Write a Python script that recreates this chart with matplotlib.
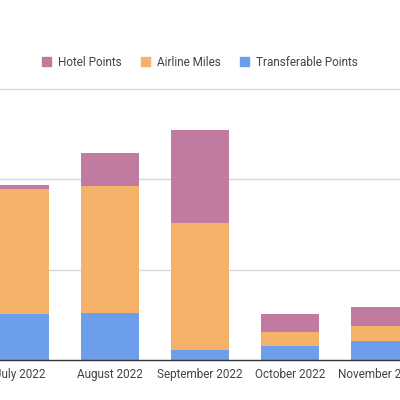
import matplotlib
matplotlib.use("Agg")
import matplotlib.pyplot as plt
from matplotlib.patches import Patch

months = ["July 2022", "August 2022", "September 2022", "October 2022", "November 2022"]
transferable = [25500, 26200, 5600, 7800, 10600]
airline = [69400, 70000, 70000, 7800, 8300]
hotel = [1700, 18300, 51700, 10000, 10600]
grid_values = [50000, 100000, 150000]

c_hotel = "#C27BA0"
c_air = "#F6B26B"
c_trans = "#6D9EEB"

plt.rcParams['font.family'] = ['Roboto', 'DejaVu Sans']

fig = plt.figure(figsize=(4, 4), dpi=100)
ax = fig.add_axes([0, 40/400, 1, 271/400])

x = list(range(len(months)))
w = 0.644
ax.bar(x, transferable, width=w, color=c_trans, zorder=3)
ax.bar(x, airline, width=w, bottom=transferable, color=c_air, zorder=3)
bot2 = [a + b for a, b in zip(transferable, airline)]
ax.bar(x, hotel, width=w, bottom=bot2, color=c_hotel, zorder=3)

ax.set_xlim(-20/90, 380/90)
ax.set_ylim(0, 150000)
for g in grid_values:
    ax.axhline(g, color="#d9d9d9", lw=1, zorder=1, clip_on=False)
ax.axhline(0, color="#333333", lw=1, zorder=4, clip_on=False)

for s in ax.spines.values():
    s.set_visible(False)
ax.set_yticks([])
ax.set_xticks(x)
ax.set_xticklabels(months, fontsize=8.5, color="#444444")
ax.tick_params(axis='x', length=0, pad=6)

handles = [Patch(color=c_hotel, label="Hotel Points"),
           Patch(color=c_air, label="Airline Miles"),
           Patch(color=c_trans, label="Transferable Points")]
fig.legend(handles=handles, loc="center", bbox_to_anchor=(0.5, 1 - 62/400), ncol=3,
           frameon=False, fontsize=8.5, labelcolor="#444444",
           handlelength=0.8, handleheight=0.8, handletextpad=0.6, columnspacing=1.6)

fig.savefig("out.png", dpi=100, facecolor="white")
